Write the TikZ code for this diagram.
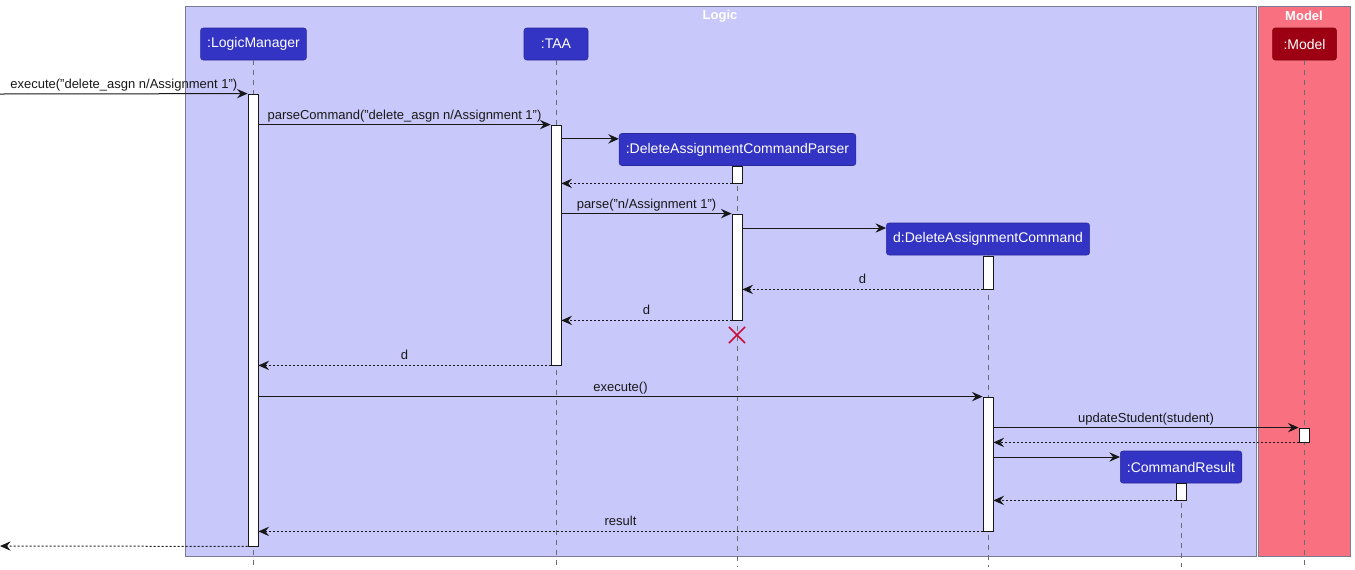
\documentclass[tikz,border=0pt]{standalone}
\usepackage{fontspec}
\setmainfont{Liberation Sans}
\usetikzlibrary{arrows.meta,fit,positioning,shapes.misc}
\definecolor{logicT}{HTML}{C8C8FA}
\definecolor{logicC}{HTML}{3333C4}
\definecolor{modelT}{HTML}{F97181}
\definecolor{modelC}{HTML}{9D0012}
\definecolor{boxline}{HTML}{7A7A96}
\definecolor{ink}{HTML}{181818}
\definecolor{killred}{HTML}{C8103A}
\tikzset{
  part/.style={draw=#1!80!black, fill=#1, rounded corners=2pt, text=white,
    minimum height=24pt, minimum width=48pt, inner xsep=5pt, font=\fontsize{10.5}{12}\selectfont},
  act/.style={draw=ink, fill=white, inner sep=0pt, line width=0.6pt},
  life/.style={draw=gray!85!black, dash pattern=on 3.75pt off 3.75pt, line width=0.5pt},
  msg/.style={draw=ink, line width=0.75pt, -{Stealth[length=8pt,width=7pt,inset=2.8pt]}},
  ret/.style={msg, dash pattern=on 1.5pt off 1.5pt},
  lbl/.style={font=\fontsize{9.75}{11}\selectfont, text=ink, above, inner sep=1.5pt,
    text height=7.5pt, text depth=2.2pt},
  boxtitle/.style={font=\fontsize{9.75}{11}\selectfont\bfseries, text=white},
  kill/.style={cross out, draw=killred, line width=1.1pt, minimum size=11pt, inner sep=0pt}
}
\begin{document}
\begin{tikzpicture}[x=0.75pt, y=-0.75pt]
	\useasboundingbox (0,0) rectangle (1355,569);
	% boxes
	\draw[boxline, fill=logicT] (185,6) rectangle (1256,556);
	\draw[boxline, fill=modelT] (1258,6) rectangle (1350,556);
	\node[boxtitle] (logicT) at (720,16) {Logic};
	\node[boxtitle] (modelT) at (1304,16) {Model};
	% participants
	\node[part=logicC] (lm) at (253.5,44) {:LogicManager};
	\node[part=logicC] (taa) at (556,44) {:TAA};
	\node[part=logicC] (parser) at (737.5,149.5) {:DeleteAssignmentCommandParser};
	\node[part=logicC] (dac) at (988,239) {d:DeleteAssignmentCommand};
	\node[part=logicC] (cr) at (1181,467) {:CommandResult};
	\node[part=modelC] (model) at (1304.5,44) {:Model};
	\coordinate (bottom) at (0,567);
	\foreach \p in {lm,taa,parser,dac,cr,model}
		\draw[life] (\p.south) -- (\p.south |- bottom);
	% activations
	\node[act, fit={(248,94) (258,546)}] (lmA) {};
	\node[act, fit={(551,125) (561,365)}] (taaA) {};
	\node[act, fit={(732,166) (742,183)}] (parA) {};
	\node[act, fit={(732,214) (742,320)}] (parB) {};
	\node[act, fit={(983,256) (993,289)}] (dacA) {};
	\node[act, fit={(983,397) (993,531)}] (dacB) {};
	\node[act, fit={(1299,428) (1309,442)}] (modA) {};
	\node[act, fit={(1176,483) (1186,500)}] (crA) {};
	% messages
	\coordinate (in) at (0,94);
	\coordinate (out) at (0,546);
	\coordinate (pIn) at ([yshift=8pt]parser.west);
	\coordinate (dIn) at ([yshift=8.25pt]dac.west);
	\coordinate (cIn) at ([yshift=7.5pt]cr.west);
	\draw[msg] (in) -- node[lbl] {execute("delete\_asgn n/Assignment 1")} (lmA.north west);
	\draw[msg] (lmA.east |- taaA.north) -- node[lbl] {parseCommand("delete\_asgn n/Assignment 1")} (taaA.north west);
	\draw[msg] (taaA.east |- pIn) -- (pIn);
	\draw[ret] (parA.south west) -- (taaA.east |- parA.south);
	\draw[msg] (taaA.east |- parB.north) -- node[lbl] {parse("n/Assignment 1")} (parB.north west);
	\draw[msg] (parB.east |- dIn) -- (dIn);
	\draw[ret] (dacA.south west) -- node[lbl] {d} (parB.east |- dacA.south);
	\draw[ret] (parB.south west) -- node[lbl] {d} (taaA.east |- parB.south);
	\node[kill] (kill) at (737,335) {};
	\draw[ret] (taaA.south west) -- node[lbl] {d} (lmA.east |- taaA.south);
	\draw[msg] (lmA.east |- dacB.north) -- node[lbl] {execute()} (dacB.north west);
	\draw[msg] (dacB.east |- modA.north) -- node[lbl] {updateStudent(student)} (modA.north west);
	\draw[ret] (modA.south west) -- (dacB.east |- modA.south);
	\draw[msg] (dacB.east |- cIn) -- (cIn);
	\draw[ret] (crA.south west) -- (dacB.east |- crA.south);
	\draw[ret] (dacB.south west) -- node[lbl] {result} (lmA.east |- dacB.south);
	\draw[ret] (lmA.south west) -- (out);
\end{tikzpicture}
\end{document}
